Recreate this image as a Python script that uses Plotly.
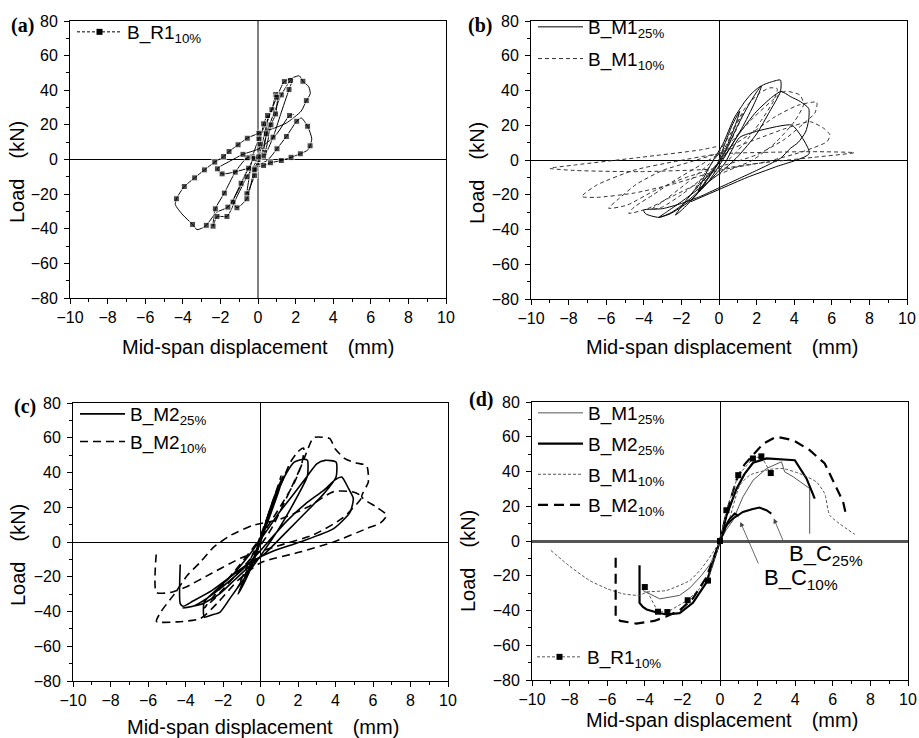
import plotly.graph_objects as go

# ---------------- (a) B_R1 10% ----------------
a_x = [0.00, 0.11, 0.30, 0.51, 0.44, 0.25, -0.12, -0.18, -0.59, -0.45, -0.30,
       0.05, 0.74, 0.94, 1.05, 0.94, 0.69, 0.35, -0.20, -0.90, -1.33, -1.12, -0.59, -0.20, 0.15,
       0.55, 1.24, 1.72, 1.85, 1.65, 1.20, 0.80, 0.30, -0.57, -1.21, -1.79, -2.27, -2.39, -2.18,
       -1.65, -1.10, -0.59, 0.04,
       0.50, 1.00, 1.40, 1.90, 2.20, 2.39, 2.70, 2.78, 2.57, 2.30, 1.50, 0.70, 0.05, -0.57,
       -1.06, -1.54, -1.83, -2.30, -2.85, -3.37, -3.92, -4.34, -4.40, -4.00, -3.48, -3.25, -2.95,
       -2.75, -2.20, -1.60, -1.00, -0.50, 0.30, 0.66, 1.24, 1.76, 2.25, 2.65, 2.77, 2.86, 2.64,
       2.30, 2.06, 1.51, 1.01, 0.50, -0.50, -1.91, -2.16, -1.50, -0.80, 0.00, 0.94, 1.68, 1.90]
a_y = [0.0, 9.0, 20.6, 25.4, 14.8, 3.0, -5.4, -9.2, -19.8, -9.0, 1.5,
       12.1, 28.8, 37.5, 39.0, 26.3, 20.0, 4.0, 0.5, -13.7, -24.6, -27.9, -22.7, -6.0, 2.5,
       18.0, 37.3, 45.6, 46.5, 40.4, 26.0, 12.9, 2.0, 1.0, -7.3, -19.4, -28.5, -38.5, -32.9,
       -32.9, -21.0, -10.0, 1.5,
       22.0, 36.0, 45.0, 47.5, 48.3, 45.2, 42.0, 38.0, 34.0, 28.0, 21.0, 17.5, 15.2, 12.3,
       8.5, 4.6, 1.7, -1.5, -6.0, -10.6, -15.6, -22.7, -26.0, -32.0, -37.5, -40.5, -39.5,
       -38.0, -30.5, -27.5, -17.0, -5.5, -3.5, -1.9, -0.6, 1.3, 3.3, 5.5, 7.9, 12.0, 19.2,
       24.0, 22.1, 13.3, 6.2, -0.5, -5.0, -8.3, -5.4, -1.0, 3.0, 6.0, 14.0, 25.4, 26.0]
a_mark = [1, 1, 1, 1, 1, 1, 1, 1, 1, 0, 1,
          1, 1, 1, 0, 1, 1, 1, 1, 1, 1, 1, 1, 1, 1,
          0, 1, 1, 0, 1, 0, 1, 1, 1, 1, 1, 1, 1, 1,
          1, 0, 1, 1,
          0, 1, 1, 0, 0, 1, 0, 0, 1, 0, 0, 0, 1, 1,
          1, 1, 1, 1, 1, 1, 1, 1, 0, 0, 1, 0, 0,
          1, 0, 1, 0, 0, 1, 1, 1, 1, 1, 0, 1, 0, 1,
          0, 1, 1, 1, 0, 1, 1, 1, 0, 1, 0, 0, 1, 0]

# ---------------- (b) B_M1 ----------------
b25_x = [0.00, 0.30, 0.70, 1.10, 0.80, 0.30, -0.20, -0.70, -1.10, -0.80, -0.30, 0.20, 0.80, 1.40,
         1.80, 2.25, 1.90, 1.20, 0.40, -0.40, -1.20, -1.80, -2.32, -2.00, -1.20, -0.40, 0.30,
         1.00, 1.70, 2.25, 2.80, 3.27, 3.27, 2.70, 2.00, 1.00, 0.00, -1.00, -2.00, -2.80, -3.19,
         -2.60, -1.60, -0.60, 0.20, 1.00, 2.00, 2.80, 3.30, 3.80, 4.33, 4.77, 4.77, 4.60, 4.20,
         3.80, 3.27, 2.00, 1.00, 0.00, -1.00, -2.00, -3.00, -4.01, -3.90, -3.19, -2.50, -1.50,
         -0.50, 0.30, 1.10, 2.00, 2.55, 3.20, 3.90, 4.80, 3.00, 1.50, 0.00, -1.50]
b25_y = [0.0, 9.0, 20.0, 28.0, 18.0, 5.0, -4.0, -12.0, -18.0, -10.0, 0.0, 9.0, 24.0, 34.0,
         39.0, 42.6, 33.0, 18.0, 4.0, -7.0, -16.0, -24.0, -31.7, -29.0, -20.0, -8.0, 4.0,
         20.0, 34.0, 42.6, 45.0, 46.0, 39.5, 28.0, 15.0, 2.0, -8.0, -16.0, -24.0, -30.0, -33.0,
         -31.0, -24.0, -13.0, 0.0, 14.0, 28.0, 36.0, 39.5, 36.5, 33.6, 29.7, 23.0, 16.0, 10.0,
         6.7, 1.0, -6.0, -11.0, -16.0, -21.0, -25.0, -28.0, -28.8, -31.0, -33.0, -30.0, -22.0,
         -12.0, -2.0, 13.0, 16.5, 18.0, 19.5, 20.0, 3.8, -4.0, -10.0, -17.0, -24.0]
b10_x = [0.0, 0.4, 0.9, 1.3, 0.9, 0.3, -0.4, -1.0, -1.4, -0.9, -0.2, 0.6, 1.4, 2.1, 2.7, 3.1,
         2.9, 2.2, 1.3, 0.3, -0.8, -2.0, -3.0, -3.6, -3.0, -1.8, -0.6, 0.6, 1.8, 2.8, 3.5, 4.3,
         4.5, 4.0, 3.0, 1.8, 0.5, -1.0, -2.5, -3.8, -4.8, -4.5, -3.5, -2.4, -1.0, 0.4, 1.8, 3.0,
         4.2, 5.2, 5.1, 4.5, 3.5, 2.0, 0.0, -2.0, -3.5, -4.9, -5.87, -5.3, -4.4, -3.0, -1.5, 0.0,
         2.0, 3.5, 4.86, 5.6, 5.9, 5.75, 4.5, 2.5, 0.0, -2.5, -4.5, -6.5, -7.3, -6.5, -4.5, -2.4,
         0.0, 3.0, 5.0, 7.2, 5.0, 2.0, 0.0, -4.2, -7.7, -9.0, -7.7, -4.2, -1.0, 0.0]
b10_y = [0.0, 9.0, 20.0, 27.0, 17.0, 4.0, -6.0, -14.0, -19.0, -10.0, 1.0, 15.0, 30.0, 38.0, 41.5,
         41.0, 34.0, 22.0, 9.0, -2.0, -10.0, -20.0, -27.0, -28.5, -24.0, -14.0, -3.0, 10.0, 24.0,
         34.0, 39.5, 37.4, 32.0, 22.0, 10.0, 0.0, -6.0, -13.0, -21.0, -28.0, -30.7, -27.0, -20.0,
         -12.0, -3.0, 6.0, 16.0, 25.0, 31.5, 33.2, 27.0, 21.0, 12.0, 3.0, -4.0, -11.0, -18.0,
         -26.0, -27.8, -22.0, -14.0, -6.0, -1.0, 4.0, 12.0, 18.0, 22.0, 18.0, 14.4, 10.6, 5.0,
         -1.0, -6.0, -14.0, -19.0, -21.5, -21.0, -14.4, -5.8, -1.0, 3.5, 4.5, 4.8, 4.2, 1.5,
         -2.0, -5.0, -6.7, -6.0, -4.8, -2.9, 1.5, 5.8, 8.0]

# ---------------- (c) B_M2 ----------------
c25_x = [0.00, 0.30, 0.70, 1.00, 1.20, 0.90, 0.40, 0.00, -0.40, -0.80, -1.20, -0.90, -0.40, 0.20,
         0.80, 1.40, 1.80, 2.29, 2.50, 2.50, 1.90, 1.00, 0.00, -0.80, -1.60, -2.15, -2.60, -3.00,
         -3.00, -2.40, -1.50, -0.50, 0.30, 1.00, 1.80, 2.50, 3.00, 3.44, 4.03, 4.03, 3.40, 2.50,
         1.40, 0.30, -0.60, -1.40, -2.20, -3.20, -4.13, -3.60, -2.80, -1.60, -0.60, 0.40, 1.40,
         2.40, 3.40, 4.00, 4.33, 4.70, 4.95, 4.77, 3.90, 2.10, 0.50, -0.60, -1.60, -2.60, -3.60,
         -4.13, -4.28, -4.28]
c25_y = [0.0, 12.0, 25.0, 33.0, 38.0, 27.0, 12.0, 0.0, -12.0, -22.0, -30.0, -22.0, -10.0, 8.0,
         26.0, 40.0, 46.0, 47.6, 47.0, 38.0, 25.0, 8.0, -8.0, -20.0, -32.0, -40.3, -42.0, -43.2,
         -34.5, -28.0, -19.0, -6.0, 6.0, 17.0, 28.0, 38.0, 45.0, 47.0, 46.0, 37.4, 28.0, 18.0,
         6.0, -6.0, -14.0, -22.0, -30.0, -36.0, -38.0, -37.0, -32.0, -22.0, -12.0, 0.0, 12.0,
         22.0, 30.0, 36.0, 37.4, 30.7, 25.0, 17.0, 7.7, 0.0, -6.0, -12.0, -20.0, -28.0, -34.0,
         -37.0, -35.5, -13.0]
c10_x = [0.00, 0.30, 0.80, 1.10, 0.80, 0.30, -0.20, -0.70, -1.20, -0.80, -0.20, 0.50, 1.20, 1.60,
         2.00, 2.30, 2.20, 1.50, 0.60, -0.40, -1.40, -2.40, -3.00, -2.40, -1.40, -0.30, 0.80, 1.80,
         2.40, 2.82, 3.30, 3.70, 3.98, 4.50, 5.10, 5.66, 5.75, 5.40, 6.20, 6.73, 6.40, 5.66, 3.90,
         2.10, 0.00, -1.20, -2.20, -3.20, -4.45, -5.55, -5.30, -4.60, -3.90, -3.20, -2.50, -1.60,
         -0.40, 1.00, 2.50, 3.90, 4.95, 5.40, 4.40, 2.80, 1.00, -1.00, -2.60, -4.00, -4.80, -5.55,
         -5.55]
c10_y = [0.0, 12.0, 28.0, 38.0, 26.0, 10.0, -4.0, -16.0, -26.0, -16.0, -2.0, 18.0, 36.0, 46.0,
         52.0, 54.0, 45.0, 28.0, 8.0, -8.0, -20.0, -32.0, -38.0, -30.0, -17.0, -2.0, 16.0, 34.0,
         50.0, 60.0, 60.3, 59.5, 53.7, 48.0, 45.5, 44.0, 34.5, 26.0, 20.0, 15.4, 11.0, 7.7, 0.0,
         -5.8, -12.0, -22.0, -34.0, -44.0, -46.0, -45.7, -40.0, -30.0, -19.2, -11.5, -3.0, 3.8,
         9.6, 13.0, 20.0, 29.0, 28.8, 26.0, 14.0, 4.0, -2.0, -9.0, -18.0, -26.0, -29.0, -29.0,
         -5.4]

# ---------------- (d) envelopes ----------------
dm1_25_x = [-4.10, -3.75, -3.20, -2.15, -1.60, -1.00, -0.50, -0.20, 0.00, 0.34, 0.69, 1.22, 1.76,
            2.47, 3.27, 3.44, 3.90, 4.77, 4.77]
dm1_25_y = [-28.5, -30.2, -33.3, -31.3, -27.0, -20.0, -13.0, -5.0, 0.0, 6.5, 11.9, 25.4, 35.0,
            41.7, 45.6, 39.8, 36.9, 30.2, 4.2]
dm2_25_x = [-4.28, -4.28, -4.10, -3.90, -3.40, -2.86, -2.15, -1.44, -0.73, -0.30, 0.00, 0.34,
            0.87, 1.30, 1.76, 2.47, 3.20, 3.98, 4.60, 5.04]
dm2_25_y = [-14.0, -35.6, -38.0, -39.4, -41.0, -42.3, -41.5, -35.6, -24.0, -10.0, 0.0, 14.4,
            29.8, 38.5, 45.0, 47.5, 47.2, 46.5, 36.0, 24.4]
dm1_10_x = [-9.00, -8.00, -6.94, -6.00, -5.16, -4.28, -3.90, -2.86, -1.60, -1.00, -0.40, 0.00,
            0.40, 1.05, 1.58, 2.64, 3.35, 4.24, 5.13, 5.57, 5.84, 7.17]
dm1_10_y = [-5.4, -14.5, -22.7, -27.5, -30.4, -31.3, -29.4, -28.5, -22.7, -16.0, -7.0, 0.0,
            9.0, 32.0, 37.9, 41.2, 41.7, 38.8, 34.0, 27.3, 14.8, 3.8]
dm2_10_x = [-5.55, -5.55, -5.30, -4.45, -3.50, -2.86, -2.15, -1.44, -0.73, 0.00, 0.34, 0.87,
            1.30, 1.76, 2.30, 3.00, 3.90, 4.77, 5.57, 6.00, 6.55, 6.73]
dm2_10_y = [-9.6, -44.2, -46.0, -47.5, -46.0, -43.5, -40.0, -33.0, -21.0, 0.0, 16.0, 35.0,
            44.0, 49.4, 56.0, 60.0, 58.0, 52.3, 44.6, 35.0, 22.5, 13.8]
dr1_x = [-4.00, -3.30, -2.80, -1.72, -0.64, 0.00, 0.34, 0.97, 1.75, 2.20, 2.70]
dr1_y = [-26.5, -40.7, -40.9, -34.1, -22.8, 0.0, 17.7, 37.9, 47.5, 48.7, 39.1]
dc25_x = [0.00, 0.34, 0.70, 1.22, 1.70, 2.10, 2.47, 2.73]
dc25_y = [0.0, 9.0, 13.0, 16.7, 18.3, 19.2, 17.7, 15.8]
dc10_x = [0.00, 0.25, 0.50, 0.78, 1.00]
dc10_y = [0.0, 8.0, 12.5, 15.8, 14.4]

# callouts in (d): label position and arrow tip
bc_labels = ["B_C<sub>25%</sub>", "B_C<sub>10%</sub>"]
bc_text_x = [3.57, 2.25]
bc_text_y = [-8.3, -21.7]
bc_tail_x = [3.50, 2.20]
bc_tail_y = [-3.5, -16.9]
bc_tip_x = [2.86, 1.08]
bc_tip_y = [12.9, 11.0]

x_range = [-10, 10]
y_range = [-80, 80]
panel_tags = ["(a)", "(b)", "(c)", "(d)"]
x_title = "Mid-span displacement\u2003(mm)"
y_title = "Load\u2003(kN)"

# ---------------- figure ----------------
W, H = 919, 738
FONT = "Liberation Sans, Arial, sans-serif"
fig = go.Figure()


def px_x(p):
    return p / W


def px_y(p):
    return 1 - p / H


# pixel boxes of the four plot areas (left, right, top, bottom)
boxes = [(70, 446, 21, 298), (531, 907, 21, 299), (73, 448, 403, 681), (532, 908, 402, 680)]
zl = [("#808080", 2, "black", 1), ("black", 1, "black", 1), ("black", 1, "black", 1),
      ("black", 1.3, "#555555", 2.5)]

for i, (l, r, t, b) in enumerate(boxes):
    sfx = "" if i == 0 else str(i + 1)
    xc, xw, yc, yw = zl[i]
    fig.layout["xaxis" + sfx] = dict(
        domain=[px_x(l), px_x(r)], anchor="y" + sfx, range=x_range, dtick=2, tick0=0,
        ticks="outside", ticklen=5, tickwidth=1, tickcolor="black", automargin=False,
        showline=True, linecolor="black", linewidth=1, mirror=True, showgrid=False,
        zeroline=True, zerolinecolor=xc, zerolinewidth=xw,
        minor=dict(dtick=1, ticks="outside", ticklen=3, tickcolor="black", showgrid=False),
        tickfont=dict(family=FONT, size=16, color="black"), ticklabelstandoff=0)
    fig.layout["yaxis" + sfx] = dict(
        domain=[px_y(b), px_y(t)], anchor="x" + sfx, range=y_range, dtick=20, tick0=0,
        ticks="outside", ticklen=5, tickwidth=1, tickcolor="black", automargin=False,
        showline=True, linecolor="black", linewidth=1, mirror=True, showgrid=False,
        zeroline=True, zerolinecolor=yc, zerolinewidth=yw,
        minor=dict(dtick=10, ticks="outside", ticklen=3, tickcolor="black", showgrid=False),
        tickfont=dict(family=FONT, size=16, color="black"), ticklabelstandoff=3)

SM = 0.6
# (a)
fig.add_trace(go.Scatter(x=a_x, y=a_y, mode="lines+markers", xaxis="x", yaxis="y",
                         line=dict(color="black", width=1, shape="spline", smoothing=SM),
                         marker=dict(symbol="square", color="black",
                                     size=[6 if m else 0 for m in a_mark]),
                         showlegend=False))
fig.add_trace(go.Scatter(x=[None], y=[None], mode="lines+markers", name="B_R1<sub>10%</sub>",
                         xaxis="x", yaxis="y", legend="legend",
                         line=dict(color="black", width=1, dash="3px,2px"),
                         marker=dict(symbol="square", color="black", size=6)))
# (b)
fig.add_trace(go.Scatter(x=b25_x, y=b25_y, mode="lines", name="B_M1<sub>25%</sub>",
                         xaxis="x2", yaxis="y2", legend="legend2", legendgroup="b1",
                         line=dict(color="black", width=1, shape="spline", smoothing=SM)))
fig.add_trace(go.Scatter(x=b10_x, y=b10_y, mode="lines", name="B_M1<sub>10%</sub>",
                         xaxis="x2", yaxis="y2", legend="legend2", legendgroup="b2",
                         line=dict(color="#333333", width=1, dash="4px,3px", shape="spline",
                                   smoothing=SM)))
# (c)
fig.add_trace(go.Scatter(x=c25_x, y=c25_y, mode="lines", name="B_M2<sub>25%</sub>",
                         xaxis="x3", yaxis="y3", legend="legend3", legendgroup="c1",
                         line=dict(color="black", width=1.6, shape="spline", smoothing=SM)))
fig.add_trace(go.Scatter(x=c10_x, y=c10_y, mode="lines", name="B_M2<sub>10%</sub>",
                         xaxis="x3", yaxis="y3", legend="legend3", legendgroup="c2",
                         line=dict(color="black", width=1.6, dash="8px,5px", shape="spline",
                                   smoothing=SM)))
# (d)
fig.add_trace(go.Scatter(x=dm1_25_x, y=dm1_25_y, mode="lines", name="B_M1<sub>25%</sub>",
                         xaxis="x4", yaxis="y4", legend="legend4", legendgroup="d1",
                         line=dict(color="#555555", width=1)))
fig.add_trace(go.Scatter(x=dm2_25_x, y=dm2_25_y, mode="lines", name="B_M2<sub>25%</sub>",
                         xaxis="x4", yaxis="y4", legend="legend4", legendgroup="d2",
                         line=dict(color="black", width=2.2)))
fig.add_trace(go.Scatter(x=dm1_10_x, y=dm1_10_y, mode="lines", name="B_M1<sub>10%</sub>",
                         xaxis="x4", yaxis="y4", legend="legend4", legendgroup="d3",
                         line=dict(color="#555555", width=1, dash="3px,2px", shape="spline",
                                   smoothing=0.5)))
fig.add_trace(go.Scatter(x=dm2_10_x, y=dm2_10_y, mode="lines", name="B_M2<sub>10%</sub>",
                         xaxis="x4", yaxis="y4", legend="legend4", legendgroup="d4",
                         line=dict(color="black", width=2.2, dash="10px,6px")))
fig.add_trace(go.Scatter(x=dc25_x, y=dc25_y, mode="lines", xaxis="x4", yaxis="y4",
                         line=dict(color="black", width=2), showlegend=False))
fig.add_trace(go.Scatter(x=dc10_x, y=dc10_y, mode="lines", xaxis="x4", yaxis="y4",
                         line=dict(color="black", width=2), showlegend=False))
fig.add_trace(go.Scatter(x=dr1_x, y=dr1_y, mode="lines+markers", name="B_R1<sub>10%</sub>",
                         xaxis="x4", yaxis="y4", legend="legend5",
                         line=dict(color="#555555", width=1, dash="3px,2px"),
                         marker=dict(symbol="square", color="black", size=6)))

leg_common = dict(bgcolor="rgba(0,0,0,0)", borderwidth=0, xanchor="left", yanchor="top",
                  font=dict(family=FONT, size=19, color="black"), itemwidth=45)
fig.update_layout(
    legend=dict(leg_common, x=px_x(72), y=px_y(13), tracegroupgap=6),
    legend2=dict(leg_common, x=px_x(533), y=px_y(8), tracegroupgap=4),
    legend3=dict(leg_common, x=px_x(75), y=px_y(395), tracegroupgap=0),
    legend4=dict(leg_common, x=px_x(533), y=px_y(394), tracegroupgap=3),
    legend5=dict(leg_common, x=px_x(532), y=px_y(638), tracegroupgap=3),
)

ann = []
tag_pos = [(22, 25), (480, 25), (25, 406), (481, 400)]
for (tx, ty), tag in zip(tag_pos, panel_tags):
    ann.append(dict(text="<b>" + tag + "</b>", x=px_x(tx), y=px_y(ty), xref="paper",
                    yref="paper", showarrow=False, xanchor="center", yanchor="middle",
                    font=dict(family="Liberation Serif, Times New Roman, serif", size=20,
                              color="black")))
xt_pos = [(258, 347), (722, 347), (263, 727), (722, 720)]
for tx, ty in xt_pos:
    ann.append(dict(text=x_title, x=px_x(tx), y=px_y(ty), xref="paper", yref="paper",
                    showarrow=False, xanchor="center", yanchor="middle",
                    font=dict(family=FONT, size=20, color="black")))
yt_pos = [(17, 172), (477, 173), (18, 555), (468, 561)]
for tx, ty in yt_pos:
    ann.append(dict(text=y_title, x=px_x(tx), y=px_y(ty), xref="paper", yref="paper",
                    showarrow=False, xanchor="center", yanchor="middle", textangle=-90,
                    font=dict(family=FONT, size=20, color="black")))
for k in range(len(bc_labels)):
    ann.append(dict(text=" ", x=bc_tip_x[k], y=bc_tip_y[k], ax=bc_tail_x[k], ay=bc_tail_y[k],
                    xref="x4", yref="y4", axref="x4", ayref="y4", showarrow=True,
                    arrowhead=2, arrowsize=1.2, arrowwidth=0.8, arrowcolor="#444444"))
    ann.append(dict(text=bc_labels[k], x=bc_text_x[k], y=bc_text_y[k], xref="x4", yref="y4",
                    showarrow=False, xanchor="left", yanchor="middle",
                    font=dict(family=FONT, size=22, color="black")))

fig.update_layout(width=W, height=H, autosize=False,
                  margin=dict(l=0, r=0, t=0, b=0, pad=0, autoexpand=False),
                  paper_bgcolor="white", plot_bgcolor="white", annotations=ann,
                  font=dict(family=FONT, color="black"))

fig.write_html("out.html", config={"displayModeBar": False},
               post_script="document.body.style.margin='0';"
                           "document.body.style.overflow='hidden';")
